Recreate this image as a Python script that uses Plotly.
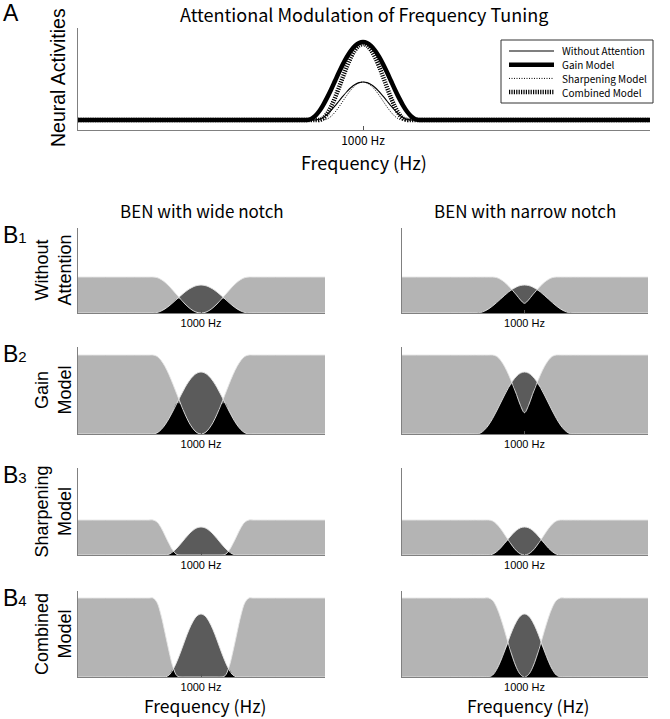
import numpy as np
import plotly.graph_objects as go

W, H = 670, 719

# ---------------- Panel A data (offset from 1000 Hz, arbitrary units) ----------------
xa = [-285, -60, -56, -52, -48, -44, -40, -36, -32, -28, -24, -20, -16, -12, -8, -4, 0,
      4, 8, 12, 16, 20, 24, 28, 32, 36, 40, 44, 48, 52, 56, 60, 287]
a_without = [10, 10, 10, 10, 10, 10.6, 12.5, 15.5, 19.5, 24.1, 29.0, 33.9, 38.5, 42.5, 45.5, 47.4, 48,
             47.4, 45.5, 42.5, 38.5, 33.9, 29.0, 24.1, 19.5, 15.5, 12.5, 10.6, 10, 10, 10, 10, 10]
a_gain = [10, 10, 10, 11.0, 13.9, 18.5, 24.7, 32.1, 40.3, 49.0, 57.7, 65.9, 73.3, 79.5, 84.1, 87.0, 88,
          87.0, 84.1, 79.5, 73.3, 65.9, 57.7, 49.0, 40.3, 32.1, 24.7, 18.5, 13.9, 11.0, 10, 10, 10]
a_sharp = [10, 10, 10, 10, 10, 10, 10, 10.9, 13.6, 17.8, 23.1, 29.0, 34.9, 40.2, 44.4, 47.1, 48,
           47.1, 44.4, 40.2, 34.9, 29.0, 23.1, 17.8, 13.6, 10.9, 10, 10, 10, 10, 10, 10, 10]
a_comb = [10, 10, 10, 10, 10, 10, 11.5, 16.0, 23.1, 32.2, 42.6, 53.4, 63.8, 72.9, 80.0, 84.5, 86,
          84.5, 80.0, 72.9, 63.8, 53.4, 42.6, 32.2, 23.1, 16.0, 11.5, 10, 10, 10, 10, 10, 10]
a_tick_vals = [0]
a_tick_text = ["1000 Hz"]
legend_names = ["Without Attention", "Gain Model", "Sharpening Model", "Combined Model"]

# ---------------- Panel B data ----------------
xb = [-123, -52, -48, -44, -40, -36, -32, -28, -24, -20, -16, -12, -8, -4, 0,
      4, 8, 12, 16, 20, 24, 28, 32, 36, 40, 44, 48, 52, 124]
tune_without = [0, 0, 0, 0.5, 1.9, 4.1, 7.0, 10.4, 14.0, 17.6, 21.0, 23.9, 26.1, 27.5, 28,
                27.5, 26.1, 23.9, 21.0, 17.6, 14.0, 10.4, 7.0, 4.1, 1.9, 0.5, 0, 0, 0]
tune_gain = [0, 0, 0, 1.1, 4.2, 9.1, 15.5, 23.0, 31.0, 39.0, 46.5, 52.9, 57.8, 60.9, 62,
             60.9, 57.8, 52.9, 46.5, 39.0, 31.0, 23.0, 15.5, 9.1, 4.2, 1.1, 0, 0, 0]
tune_sharp = [0, 0, 0, 0, 0, 0, 0.8, 3.3, 7.0, 11.6, 16.4, 21.0, 24.7, 27.2, 28,
              27.2, 24.7, 21.0, 16.4, 11.6, 7.0, 3.3, 0.8, 0, 0, 0, 0, 0, 0]
tune_comb = [0, 0, 0, 0, 0, 0, 1.9, 7.4, 15.8, 26.0, 37.0, 47.3, 55.6, 61.1, 63,
             61.1, 55.6, 47.3, 37.0, 26.0, 15.8, 7.4, 1.9, 0, 0, 0, 0, 0, 0]

noise_wide_1 = [36, 36, 36, 35.4, 33.6, 30.7, 27.0, 22.6, 18.0, 13.4, 9.0, 5.3, 2.4, 0.6, 0,
                0.6, 2.4, 5.3, 9.0, 13.4, 18.0, 22.6, 27.0, 30.7, 33.6, 35.4, 36, 36, 36]
noise_narrow_1 = [36, 36, 36, 36, 36, 36, 36, 35.4, 33.6, 30.7, 27.0, 22.6, 18.0, 13.0, 9.7,
                  13.0, 18.0, 22.6, 27.0, 30.7, 33.6, 35.4, 36, 36, 36, 36, 36, 36, 36]
noise_wide_2 = [79, 79, 79, 77.7, 73.7, 67.5, 59.3, 49.7, 39.5, 29.3, 19.8, 11.5, 5.3, 1.3, 0,
                1.3, 5.3, 11.5, 19.8, 29.3, 39.5, 49.7, 59.3, 67.5, 73.7, 77.7, 79, 79, 79]
noise_narrow_2 = [79, 79, 79, 79, 79, 79, 79, 77.7, 73.7, 67.5, 59.3, 49.7, 39.5, 28.4, 21.3,
                  28.4, 39.5, 49.7, 59.3, 67.5, 73.7, 77.7, 79, 79, 79, 79, 79, 79, 79]
noise_wide_3 = [35, 35, 35, 33.0, 27.5, 19.6, 11.4, 4.4, 0.5, 0, 0, 0, 0, 0, 0,
                0, 0, 0, 0, 0, 0.5, 4.4, 11.4, 19.6, 27.5, 33.0, 35, 35, 35]
noise_narrow_3 = [35, 35, 35, 35, 35, 35, 34.0, 30.9, 26.3, 20.5, 14.5, 8.8, 4.1, 1.1, 0,
                  1.1, 4.1, 8.8, 14.5, 20.5, 26.3, 30.9, 34.0, 35, 35, 35, 35, 35, 35]
noise_wide_4 = [79, 79, 79, 74.5, 62.0, 44.2, 25.7, 9.9, 1.2, 0, 0, 0, 0, 0, 0,
                0, 0, 0, 0, 0, 1.2, 9.9, 25.7, 44.2, 62.0, 74.5, 79, 79, 79]
noise_narrow_4 = [79, 79, 79, 79, 79, 79, 76.6, 69.8, 59.3, 46.4, 32.6, 19.8, 9.2, 2.4, 0,
                  2.4, 9.2, 19.8, 32.6, 46.4, 59.3, 69.8, 76.6, 79, 79, 79, 79, 79, 79]

row_names = ["Without<br>Attention", "Gain<br>Model", "Sharpening<br>Model", "Combined<br>Model"]
row_tags = ["1", "2", "3", "4"]
row_tuning = [tune_without, tune_gain, tune_sharp, tune_comb]
row_noise_wide = [noise_wide_1, noise_wide_2, noise_wide_3, noise_wide_4]
row_noise_narrow = [noise_narrow_1, noise_narrow_2, noise_narrow_3, noise_narrow_4]
col_titles = ["BEN with wide notch", "BEN with narrow notch"]

# ---------------- layout geometry (pixels) ----------------
A_left, A_right, A_top, A_bottom = 78, 650, 28, 130
B_lefts, B_rights = [78, 402], [325, 648]
B_tops, B_bottoms = [228, 347, 468, 591], [313, 434, 555, 677]

LIGHT = "#b4b4b4"
DARK = "#5b5b5b"
AXC = "#808080"
JP = "Noto Sans CJK JP"
SANS = "Liberation Sans"


def fx(p):
    return p / W


def fy(p):
    return 1 - p / H


fig = go.Figure()

styles = {
    "Without Attention": dict(color="black", width=1.1),
    "Gain Model": dict(color="black", width=4.5),
    "Sharpening Model": dict(color="black", width=1, dash="1px,1.5px"),
    "Combined Model": dict(color="black", width=4.5, dash="1.2px,1.2px"),
}
series_a = {"Without Attention": a_without, "Gain Model": a_gain,
            "Sharpening Model": a_sharp, "Combined Model": a_comb}
for name in ["Gain Model", "Combined Model", "Without Attention", "Sharpening Model"]:
    ln = dict(styles[name], shape="spline", smoothing=1)
    fig.add_trace(go.Scatter(x=xa, y=series_a[name], mode="lines", name=name, line=ln,
                             showlegend=False, xaxis="x", yaxis="y", hoverinfo="skip"))

layout = dict(
    width=W, height=H, margin=dict(l=0, r=0, t=0, b=0),
    paper_bgcolor="white", plot_bgcolor="white", showlegend=False,
)
axis_common = dict(showgrid=False, zeroline=False, showline=True, linecolor=AXC,
                   linewidth=1, fixedrange=True)
layout["xaxis"] = dict(axis_common, domain=[fx(A_left), fx(A_right)], range=[-285, 287],
                       anchor="y", ticks="inside", ticklen=4, tickcolor="#555",
                       tickvals=a_tick_vals, ticktext=a_tick_text,
                       tickfont=dict(size=12, family=JP, color="black"))
layout["yaxis"] = dict(axis_common, domain=[fy(A_bottom), fy(A_top)],
                       range=[0, A_bottom - A_top], anchor="x",
                       showticklabels=False, ticks="")

# Panel B traces
for r in range(4):
    for c in range(2):
        idx = 2 + 2 * r + c
        xn, yn = f"x{idx}", f"y{idx}"
        tune = np.array(row_tuning[r], dtype=float)
        noise = np.array((row_noise_wide if c == 0 else row_noise_narrow)[r], dtype=float)
        overlap = np.minimum(noise, tune)
        common = dict(x=xb, mode="lines", xaxis=xn, yaxis=yn, showlegend=False,
                      hoverinfo="skip")
        fig.add_trace(go.Scatter(y=noise, fill="tozeroy", fillcolor=LIGHT,
                                 line=dict(width=0, shape="spline", smoothing=1), **common))
        fig.add_trace(go.Scatter(y=tune, fill="tozeroy", fillcolor=DARK,
                                 line=dict(width=0, shape="spline", smoothing=1), **common))
        fig.add_trace(go.Scatter(y=overlap, fill="tozeroy", fillcolor="black",
                                 line=dict(width=0, shape="spline", smoothing=1), **common))
        fig.add_trace(go.Scatter(y=noise, line=dict(width=0.9, color="#e6e6e6",
                                                    shape="spline", smoothing=1), **common))
        fig.add_trace(go.Scatter(y=tune, line=dict(width=0.9, color="#e6e6e6",
                                                   shape="spline", smoothing=1), **common))
        layout[f"xaxis{idx}"] = dict(axis_common, domain=[fx(B_lefts[c]), fx(B_rights[c])],
                                     range=[-123, 124], anchor=yn, ticks="inside",
                                     ticklen=3, tickcolor="#555",
                                     tickvals=a_tick_vals, ticktext=a_tick_text,
                                     tickfont=dict(size=11, family=SANS, color="black"))
        layout[f"yaxis{idx}"] = dict(axis_common, domain=[fy(B_bottoms[r]), fy(B_tops[r])],
                                     range=[0, B_bottoms[r] - B_tops[r]], anchor=xn,
                                     showticklabels=False, ticks="")

ann = []
shapes = []


def add_text(text, x, y, size, family, angle=0, xanchor="center", yanchor="middle"):
    ann.append(dict(text=text, x=fx(x), y=fy(y), xref="paper", yref="paper",
                    showarrow=False, textangle=angle, xanchor=xanchor, yanchor=yanchor,
                    borderpad=0,
                    font=dict(size=size, family=family, color="black")))


# legend box for panel A
LG_L, LG_R, LG_T, LG_B = 501, 653, 40, 103
shapes.append(dict(type="rect", xref="paper", yref="paper", x0=fx(LG_L), x1=fx(LG_R),
                   y0=fy(LG_B), y1=fy(LG_T), line=dict(color="#333", width=1),
                   fillcolor="white", layer="above"))
for i, name in enumerate(legend_names):
    yy = 51 + 13.7 * i
    st = styles[name]
    shapes.append(dict(type="line", xref="paper", yref="paper", x0=fx(509), x1=fx(554),
                       y0=fy(yy), y1=fy(yy), layer="above",
                       line=dict(color=st["color"], width=st["width"],
                                 dash=st.get("dash", "solid"))))
    add_text(name, 561, yy, 10, JP, xanchor="left")

add_text("A", 2, 13, 23, SANS, xanchor="left")
add_text("Attentional Modulation of Frequency Tuning", 364, 0, 18, JP, yanchor="top")
add_text("Neural Activities", 58, 78, 19.5, SANS, angle=-90)
add_text("Frequency (Hz)", 364, 162, 18, JP)
for c in range(2):
    add_text(col_titles[c], (B_lefts[c] + B_rights[c]) / 2, 210, 17, JP)
    add_text("Frequency (Hz)", (B_lefts[c] + B_rights[c]) / 2 + 3, 719, 17.5, JP,
             yanchor="bottom")
for r in range(4):
    add_text("B<span style='font-size:15px'>" + row_tags[r] + "</span>", 2,
             B_tops[r] + 7, 23, SANS, xanchor="left")
    add_text(row_names[r], 53, (B_tops[r] + B_bottoms[r]) / 2, 18, SANS, angle=-90)

layout["annotations"] = ann
layout["shapes"] = shapes
fig.update_layout(**layout)
fig.write_html("out.html", config={"displayModeBar": False, "staticPlot": True},
               post_script="document.body.style.margin='0';document.body.style.padding='0';"
                           "document.body.style.overflow='hidden';")
